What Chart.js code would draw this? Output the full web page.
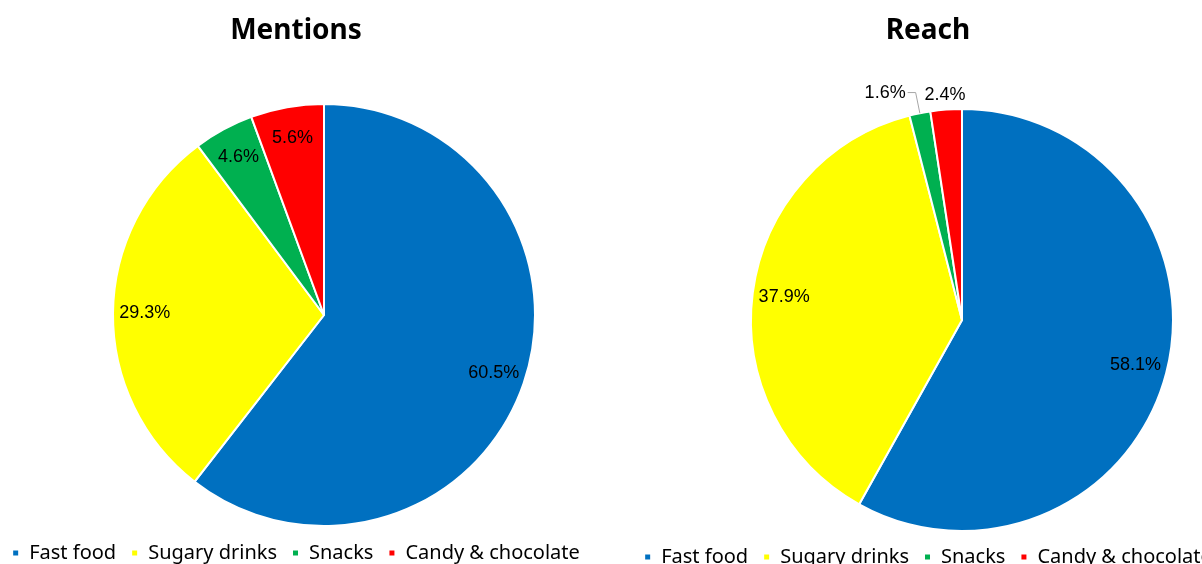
<!DOCTYPE html>
<html>
<head>
<meta charset="utf-8">
<script src="https://cdn.jsdelivr.net/npm/chart.js@4.4.0/dist/chart.umd.min.js"></script>
<style>
  html, body { margin: 0; padding: 0; background: #fff; overflow: hidden; width: 1202px; height: 564px; }
  canvas { position: absolute; top: 0; }
  #mentionsChart { left: -24px; }
  #reachChart { left: 608px; }
</style>
</head>
<body>
<canvas id="mentionsChart" width="640" height="573"></canvas>
<canvas id="reachChart" width="640" height="577"></canvas>
<script>
// ── Share of food categories (percent) ─────────────────────────
const categories = ['Fast food', 'Sugary drinks', 'Snacks', 'Candy & chocolate'];
const mentionsShare = [60.5, 29.3, 4.6, 5.6];
const reachShare = [58.1, 37.9, 1.6, 2.4];
const sliceColors = ['#0070C0', '#FFFF00', '#00B050', '#FF0000'];

// Moves the plot area sideways so the pie sits off-centre from title/legend
const shiftArea = {
    id: 'shiftArea',
    afterLayout(chart, args, opts) {
        const a = chart.chartArea;
        a.left += opts.dx;
        a.right += opts.dx;
    }
};

// Percentage labels: inside, outside, or outside with a leader line
const sliceLabels = {
    id: 'sliceLabels',
    afterDatasetsDraw(chart, args, opts) {
        const ctx = chart.ctx;
        const meta = chart.getDatasetMeta(0);
        const values = chart.data.datasets[0].data;
        ctx.save();
        ctx.font = opts.font;
        ctx.fillStyle = '#000';
        ctx.textBaseline = 'middle';
        meta.data.forEach((arc, i) => {
            const { x, y, startAngle, endAngle, outerRadius } =
                arc.getProps(['x', 'y', 'startAngle', 'endAngle', 'outerRadius'], true);
            const mid = (startAngle + endAngle) / 2;
            const cos = Math.cos(mid), sin = Math.sin(mid);
            const text = values[i].toFixed(1) + '%';
            const place = (opts.placement && opts.placement[i]) || 'in';
            if (place === 'leader') {
                const ex = x + cos * outerRadius * 1.1;
                const ey = y + sin * outerRadius * 1.1;
                ctx.strokeStyle = '#A6A6A6';
                ctx.lineWidth = 1;
                ctx.beginPath();
                ctx.moveTo(x + cos * outerRadius, y + sin * outerRadius);
                ctx.lineTo(ex, ey);
                ctx.lineTo(ex - 8, ey);
                ctx.stroke();
                ctx.textAlign = 'right';
                ctx.fillText(text, ex - 10, ey);
            } else {
                const k = place === 'out' ? 1.07 : 0.85;
                ctx.textAlign = 'center';
                ctx.fillText(text, x + cos * outerRadius * k, y + sin * outerRadius * k);
            }
        });
        ctx.restore();
    }
};

function makePie(canvasId, title, values, opts) {
    return new Chart(document.getElementById(canvasId), {
        type: 'pie',
        data: {
            labels: categories,
            datasets: [{
                data: values,
                backgroundColor: sliceColors,
                borderColor: '#fff',
                borderWidth: 2,
                radius: 211
            }]
        },
        options: {
            responsive: false,
            animation: false,
            events: [],
            plugins: {
                title: {
                    display: true, text: title, color: '#000',
                    font: { family: 'Noto Sans', size: 28, weight: 'bold' },
                    padding: { top: 14, bottom: opts.titleGap }
                },
                legend: {
                    position: 'bottom',
                    labels: {
                        color: '#000', boxWidth: 7, boxHeight: 7, padding: 15,
                        font: { family: 'Noto Sans', size: 20 }
                    }
                },
                tooltip: { enabled: false },
                shiftArea: { dx: opts.dx },
                sliceLabels: { font: '18px "Liberation Sans", Arial, sans-serif', placement: opts.placement }
            }
        },
        plugins: [shiftArea, sliceLabels]
    });
}

makePie('mentionsChart', 'Mentions', mentionsShare, { dx: 28, titleGap: 54.4, placement: ['in', 'in', 'in', 'in'] });
makePie('reachChart', 'Reach', reachShare, { dx: 34, titleGap: 60.4, placement: ['in', 'in', 'leader', 'out'] });
</script>
</body>
</html>
